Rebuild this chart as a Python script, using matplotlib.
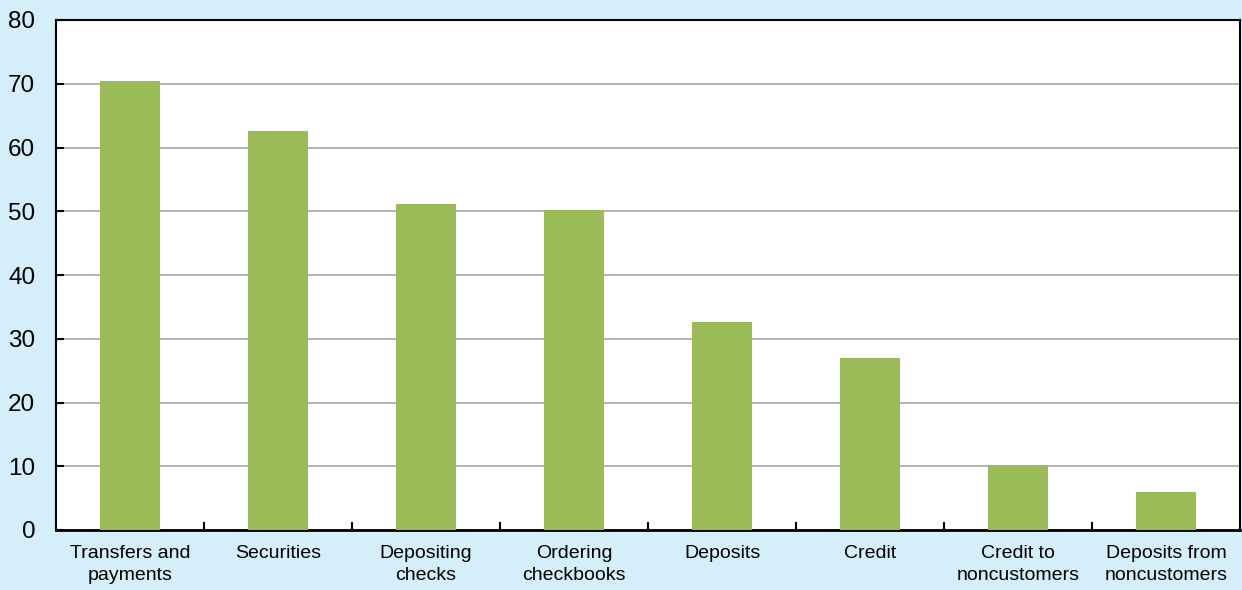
import numpy as np
import matplotlib.pyplot as plt

plt.rcParams['font.family'] = ['Liberation Sans', 'DejaVu Sans']

categories = ['Transfers and\npayments', 'Securities', 'Depositing\nchecks',
              'Ordering\ncheckbooks', 'Deposits', 'Credit',
              'Credit to\nnoncustomers', 'Deposits from\nnoncustomers']
values = [70.4, 62.6, 51.1, 50.2, 32.6, 27.0, 10.2, 6.0]
yticks = [0, 10, 20, 30, 40, 50, 60, 70, 80]

bg = '#D4EEFA'
fig = plt.figure(figsize=(12.42, 5.9), dpi=100, facecolor=bg)
ax = fig.add_axes([56 / 1242, 60 / 590, (1240 - 56) / 1242, (530 - 20) / 590])
ax.set_facecolor('white')

x = np.arange(len(categories))
ax.bar(x, values, width=0.4, color='#9BBB59', zorder=3)

ax.set_xlim(-0.5, len(categories) - 0.5)
ax.set_ylim(0, 80)
ax.set_yticks(yticks)
ax.yaxis.grid(True, color='#A6A6A6', linewidth=1.2, zorder=0)
ax.tick_params(axis='y', labelsize=17.5, length=6, width=1.5, direction='in', pad=15)

# category labels without ticks, ticks between categories
ax.set_xticks(x)
ax.set_xticklabels(categories, fontsize=14, linespacing=1.4)
ax.tick_params(axis='x', which='major', length=0, pad=10.5)
ax.set_xticks(np.arange(0.5, len(categories) - 1, 1), minor=True)
ax.tick_params(axis='x', which='minor', length=6, width=1.5, direction='in')

for s in ax.spines.values():
    s.set_linewidth(1.5)
    s.set_color('black')
ax.spines['bottom'].set_linewidth(2)

fig.savefig('out.png', dpi=100, facecolor=bg)
